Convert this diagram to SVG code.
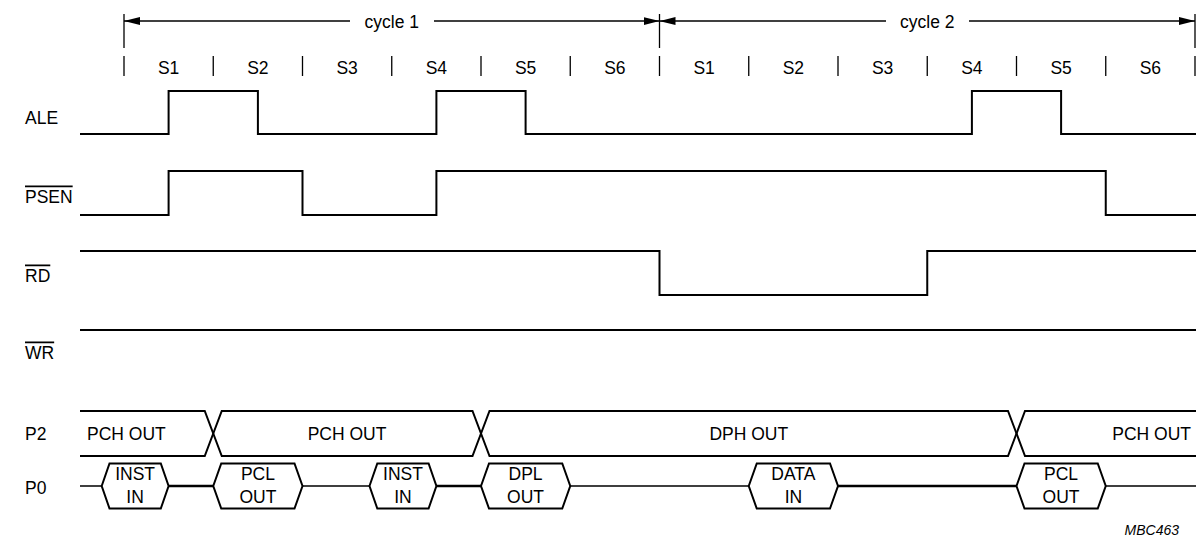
<svg xmlns="http://www.w3.org/2000/svg" width="1203" height="555" viewBox="0 0 1203 555">
<defs>
<marker id="arr" viewBox="0 0 16 8" refX="16" refY="4" markerWidth="16" markerHeight="8" markerUnits="userSpaceOnUse" orient="auto-start-reverse">
<path d="M0,0 L16,4 L0,8 Z" fill="#000"/>
</marker>
<style>
text{font-family:"Liberation Sans",Arial,sans-serif;font-size:17.5px;fill:#000}
.c{text-anchor:middle}
.e{text-anchor:end}
.ov{text-decoration:overline}
.sig{fill:none;stroke:#000;stroke-width:2}
.tick{fill:none;stroke:#000;stroke-width:1.3}
.thin{fill:none;stroke:#000;stroke-width:1.3}
.thick{fill:none;stroke:#000;stroke-width:2.6}
.bub{fill:#fff;stroke:#000;stroke-width:2}
.id{font-size:14px;font-style:italic}
</style>
</defs>
<rect width="1203" height="555" fill="#fff"/>

<g id="timeline">
<path class="tick" d="M124,14V48 M659.5,14V48 M1195,14V48"/>
<path class="tick" d="M124,56V76 M213.25,56V76 M302.5,56V76 M391.75,56V76 M481,56V76 M570.25,56V76 M659.5,56V76 M748.75,56V76 M838,56V76 M927.25,56V76 M1016.5,56V76 M1105.75,56V76 M1195,56V76"/>
<path class="tick" d="M350,21H124" marker-end="url(#arr)"/>
<path class="tick" d="M434,21H659.5" marker-end="url(#arr)"/>
<path class="tick" d="M886,21H659.5" marker-end="url(#arr)"/>
<path class="tick" d="M969,21H1195" marker-end="url(#arr)"/>
<text class="c" x="391.75" y="27.5">cycle 1</text>
<text class="c" x="927.25" y="27.5">cycle 2</text>
<text class="c" x="168.6" y="74">S1</text>
<text class="c" x="257.9" y="74">S2</text>
<text class="c" x="347.1" y="74">S3</text>
<text class="c" x="436.4" y="74">S4</text>
<text class="c" x="525.6" y="74">S5</text>
<text class="c" x="614.9" y="74">S6</text>
<text class="c" x="704.1" y="74">S1</text>
<text class="c" x="793.4" y="74">S2</text>
<text class="c" x="882.6" y="74">S3</text>
<text class="c" x="971.9" y="74">S4</text>
<text class="c" x="1061.1" y="74">S5</text>
<text class="c" x="1150.4" y="74">S6</text>
</g>

<g id="labels">
<text x="25" y="123.5">ALE</text>
<text class="ov" x="25" y="202.5">PSEN</text>
<text class="ov" x="25" y="281.5">RD</text>
<text class="ov" x="25" y="358.5">WR</text>
<text x="25" y="440">P2</text>
<text x="25" y="493.5">P0</text>
</g>

<g id="ALE"><path class="sig" d="M80,134H168.6V91H257.9V134H436.4V91H525.6V134H971.9V91H1061.1V134H1196"/></g>
<g id="PSEN"><path class="sig" d="M80,215H168.6V171H302.5V215H436.4V171H1105.75V215H1196"/></g>
<g id="RD"><path class="sig" d="M80,251H659.5V295H927.25V251H1196"/></g>
<g id="WR"><path class="sig" d="M80,330H1196"/></g>

<g id="P2">
<path class="sig" d="M80,411H204.75L221.75,456H472.5L489.5,411H1008L1025,456H1196"/>
<path class="sig" d="M80,456H204.75L221.75,411H472.5L489.5,456H1008L1025,411H1196"/>
<text x="87" y="440">PCH OUT</text>
<text class="c" x="347" y="440">PCH OUT</text>
<text class="c" x="748.75" y="440">DPH OUT</text>
<text class="e" x="1191" y="440">PCH OUT</text>
</g>

<g id="P0">
<path class="thin" d="M80,486H101.7 M302.5,486H369.5 M570.25,486H748.75 M1105.75,486H1196"/>
<path class="thick" d="M168.6,486H213.25 M436.4,486H481 M838,486H1016.5"/>
<g id="b1"><path class="bub" d="M101.7,486L109.5,463.5H160.8L168.6,486L160.8,508.5H109.5Z"/><text class="c" x="135.1" y="480">INST</text><text class="c" x="135.1" y="503">IN</text></g>
<g id="b2"><path class="bub" d="M213.25,486L221.25,463.5H294.5L302.5,486L294.5,508.5H221.25Z"/><text class="c" x="257.9" y="480">PCL</text><text class="c" x="257.9" y="503">OUT</text></g>
<g id="b3"><path class="bub" d="M369.5,486L377.3,463.5H428.6L436.4,486L428.6,508.5H377.3Z"/><text class="c" x="403" y="480">INST</text><text class="c" x="403" y="503">IN</text></g>
<g id="b4"><path class="bub" d="M481,486L489,463.5H562.25L570.25,486L562.25,508.5H489Z"/><text class="c" x="525.6" y="480">DPL</text><text class="c" x="525.6" y="503">OUT</text></g>
<g id="b5"><path class="bub" d="M748.75,486L756.75,463.5H830L838,486L830,508.5H756.75Z"/><text class="c" x="793.4" y="480">DATA</text><text class="c" x="793.4" y="503">IN</text></g>
<g id="b6"><path class="bub" d="M1016.5,486L1024.5,463.5H1097.75L1105.75,486L1097.75,508.5H1024.5Z"/><text class="c" x="1061.1" y="480">PCL</text><text class="c" x="1061.1" y="503">OUT</text></g>
</g>

<text class="e id" x="1179" y="535">MBC463</text>
</svg>
